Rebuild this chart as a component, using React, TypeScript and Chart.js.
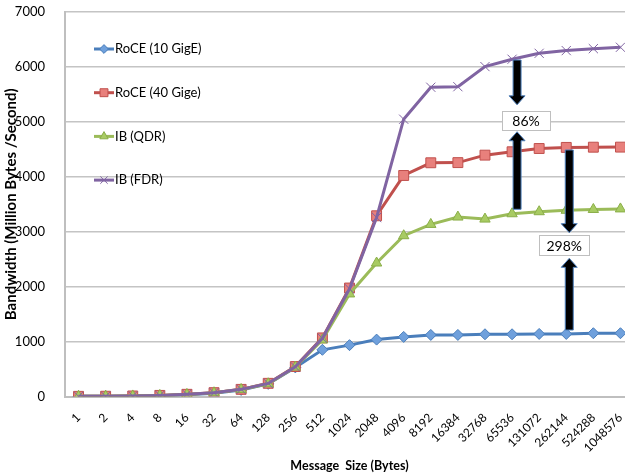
import React, { useEffect, useRef } from "react";
import { Chart, registerables } from "chart.js";

Chart.register(...registerables);

const categories = [
  "1", "2", "4", "8", "16", "32", "64", "128", "256", "512", "1024", "2048",
  "4096", "8192", "16384", "32768", "65536", "131072", "262144", "524288", "1048576",
];

const roce10 = [3, 5, 8, 15, 30, 60, 120, 230, 530, 850, 935, 1036, 1085, 1121, 1121, 1133, 1133, 1139, 1139, 1152, 1152];
const roce40 = [3, 5, 10, 20, 40, 70, 130, 240, 545, 1067, 1975, 3290, 4024, 4255, 4258, 4394, 4455, 4515, 4535, 4539, 4540];
const ibQdr = [3, 5, 10, 20, 38, 68, 128, 232, 535, 1030, 1867, 2430, 2927, 3133, 3267, 3230, 3327, 3364, 3390, 3405, 3415];
const ibFdr = [3, 5, 10, 20, 40, 70, 130, 238, 540, 1060, 1960, 3260, 5048, 5630, 5640, 6006, 6140, 6248, 6297, 6333, 6358];

const seriesNames = ["RoCE (10 GigE)", "RoCE (40 Gige)", "IB (QDR)", "IB (FDR)"];

const yTicksMax = 7000;
const yTickStep = 1000;

// annotation arrows in data units: [categoryIndex, fromValue, toValue]
const arrows = [
  [16, 6126, 5310],
  [16, 3408, 4820],
  [18, 4488, 2982],
  [18, 1210, 2516],
];
// label boxes: [text, categoryIndex, topValue, bottomValue]
const boxes: [string, number, number, number][] = [
  ["86%", 16, 5190, 4845],
  ["298%", 18, 2940, 2576],
];
const arrowShift = [5, 5, 3, 3];
const boxShift = [14, -2];

const FONT = "Lato, 'Open Sans', sans-serif";

const styles = [
  { line: "#4A7EBB", fill: "#6FA0DC", border: "#4A7EBB", pointStyle: "rectRot", radius: 5.5, bw: 1 },
  { line: "#C0504D", fill: "#E8807C", border: "#C0504D", pointStyle: "rect", radius: 7, bw: 1 },
  { line: "#9BBB59", fill: "#A8CB63", border: "#8AAE48", pointStyle: "triangle", radius: 6, bw: 1 },
  { line: "#8064A2", fill: "#8064A2", border: "#8064A2", pointStyle: "crossRot", radius: 6.5, bw: 1 },
];

function drawMarker(ctx: CanvasRenderingContext2D, style: string, r: number, x: number, y: number) {
  ctx.beginPath();
  if (style === "rectRot") {
    ctx.moveTo(x - r, y);
    ctx.lineTo(x, y - r);
    ctx.lineTo(x + r, y);
    ctx.lineTo(x, y + r);
    ctx.closePath();
    ctx.fill();
    ctx.stroke();
  } else if (style === "rect") {
    const h = r * Math.SQRT1_2;
    ctx.rect(x - h, y - h, 2 * h, 2 * h);
    ctx.fill();
    ctx.stroke();
  } else if (style === "triangle") {
    ctx.moveTo(x, y - r);
    ctx.lineTo(x + r * 0.866, y + r * 0.5);
    ctx.lineTo(x - r * 0.866, y + r * 0.5);
    ctx.closePath();
    ctx.fill();
    ctx.stroke();
  } else {
    const h = r * Math.SQRT1_2;
    ctx.moveTo(x - h, y - h);
    ctx.lineTo(x + h, y + h);
    ctx.moveTo(x + h, y - h);
    ctx.lineTo(x - h, y + h);
    ctx.stroke();
  }
}

function drawArrow(ctx: CanvasRenderingContext2D, cx: number, yFrom: number, yTo: number) {
  const dir = yTo > yFrom ? 1 : -1;
  const shaftHalf = 4;
  const headHalf = 8;
  const headLen = 9;
  const base = yTo - dir * headLen;
  ctx.beginPath();
  ctx.moveTo(cx - shaftHalf, yFrom);
  ctx.lineTo(cx + shaftHalf, yFrom);
  ctx.lineTo(cx + shaftHalf, base);
  ctx.lineTo(cx + headHalf, base);
  ctx.lineTo(cx, yTo);
  ctx.lineTo(cx - headHalf, base);
  ctx.lineTo(cx - shaftHalf, base);
  ctx.closePath();
  ctx.fillStyle = "#000";
  ctx.fill();
  ctx.strokeStyle = "#4F81BD";
  ctx.lineWidth = 1;
  ctx.stroke();
}

const overlayPlugin = {
  id: "overlay",
  afterDatasetsDraw(chart: any) {
    const { ctx, scales, chartArea } = chart;
    const xs = scales.x;
    const ys = scales.y;
    ctx.save();
    arrows.forEach(([idx, from, to], k) => {
      const cx = xs.getPixelForValue(idx) + arrowShift[k];
      drawArrow(ctx, cx, ys.getPixelForValue(from), ys.getPixelForValue(to));
    });
    boxes.forEach(([text, idx, top, bottom], k) => {
      const cx = xs.getPixelForValue(idx) + boxShift[k];
      const y0 = ys.getPixelForValue(top);
      const y1 = ys.getPixelForValue(bottom);
      ctx.font = `14px ${FONT}`;
      const w = ctx.measureText(text).width + 14;
      const w2 = Math.max(w, 48);
      ctx.fillStyle = "#fff";
      ctx.fillRect(cx - w2 / 2, y0, w2, y1 - y0);
      ctx.strokeStyle = "#BFBFBF";
      ctx.lineWidth = 1;
      ctx.strokeRect(Math.round(cx - w2 / 2) + 0.5, Math.round(y0) + 0.5, Math.round(w2), Math.round(y1 - y0));
      ctx.fillStyle = "#000";
      ctx.textAlign = "center";
      ctx.textBaseline = "middle";
      ctx.fillText(text, cx, (y0 + y1) / 2 + 1);
    });
    // legend
    const lx = chartArea.left + 29;
    for (let i = 0; i < seriesNames.length; i++) {
      const s = styles[i];
      const ly = chartArea.top + 37 + i * 43.7;
      ctx.strokeStyle = s.line;
      ctx.lineWidth = 3;
      ctx.beginPath();
      ctx.moveTo(lx, ly);
      ctx.lineTo(lx + 20, ly);
      ctx.stroke();
      ctx.fillStyle = s.fill;
      ctx.strokeStyle = s.border;
      ctx.lineWidth = 1;
      drawMarker(ctx, s.pointStyle, s.radius * 0.8, lx + 10, ly);
      ctx.fillStyle = "#000";
      ctx.font = `13px ${FONT}`;
      ctx.textAlign = "left";
      ctx.textBaseline = "middle";
      ctx.fillText(seriesNames[i], lx + 21, ly);
    }
    ctx.restore();
  },
};

export default function App() {
  const ref = useRef<HTMLCanvasElement | null>(null);
  useEffect(() => {
    document.body.style.margin = "0";
    if (!ref.current) return;
    const data = [roce10, roce40, ibQdr, ibFdr];
    const datasets = data.map((d, i) => ({
      label: seriesNames[i],
      data: d,
      borderColor: styles[i].line,
      backgroundColor: styles[i].fill,
      borderWidth: 3,
      pointStyle: styles[i].pointStyle,
      pointRadius: styles[i].radius,
      pointBackgroundColor: styles[i].fill,
      pointBorderColor: styles[i].border,
      pointBorderWidth: styles[i].bw,
      tension: 0,
      order: 3 - i,
    }));
    const chart = new Chart(ref.current, {
      type: "line",
      data: { labels: categories, datasets: datasets as any },
      options: {
        responsive: false,
        animation: false,
        devicePixelRatio: 1,
        layout: { padding: { top: 12, right: 0, bottom: 0, left: 0 } },
        plugins: { legend: { display: false }, tooltip: { enabled: false } },
        scales: {
          x: {
            offset: true,
            grid: { display: false, offset: true },
            border: { display: true, color: "#BFBFBF", width: 2 },
            ticks: {
              autoSkip: false,
              maxRotation: 45,
              minRotation: 45,
              color: "#000",
              font: { family: FONT, size: 12 },
              padding: 6,
            },
            title: {
              display: true,
              text: "Message  Size (Bytes)",
              color: "#000",
              font: { family: FONT, size: 12.5, weight: "bold" },
              padding: { top: 0, bottom: 2 },
            },
            afterFit: (s: any) => {
              s.height = 78.5;
            },
          },
          y: {
            min: 0,
            max: yTicksMax,
            ticks: {
              stepSize: yTickStep,
              color: "#000",
              font: { family: FONT, size: 13 },
              padding: 20,
              callback: (v: any) => String(v),
            },
            grid: { color: "#C4C4C4", lineWidth: 1.5, drawTicks: false },
            border: { display: true, color: "#BFBFBF", width: 2 },
            title: {
              display: true,
              text: "Bandwidth (Million Bytes /Second)",
              color: "#000",
              font: { family: FONT, size: 15, weight: "bold" },
              padding: { top: 2, bottom: 0 },
            },
            afterFit: (s: any) => {
              s.width = 65;
              s.paddingTop = 0;
              s.paddingBottom = 0;
            },
          },
        },
      },
      plugins: [overlayPlugin],
    });
    return () => chart.destroy();
  }, []);
  return (
    <div style={{ width: 625, height: 475, overflow: "hidden" }}>
      <canvas ref={ref} width={642} height={475} style={{ display: "block" }} />
    </div>
  );
}
